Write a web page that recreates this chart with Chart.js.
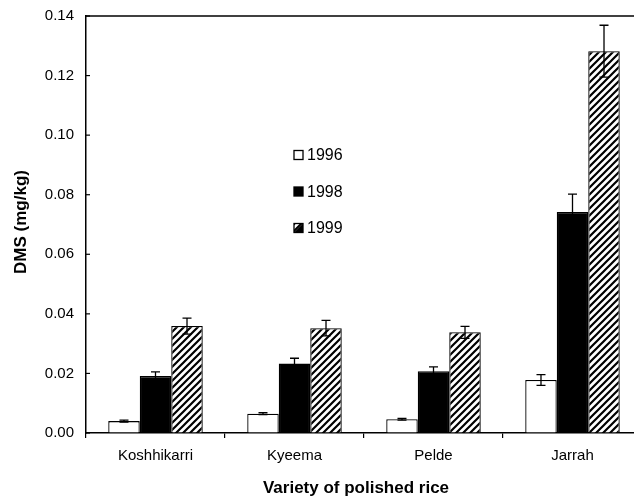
<!DOCTYPE html>
<html>
<head>
<meta charset="utf-8">
<script src="https://cdn.jsdelivr.net/npm/chart.js@4"></script>
<style>
html,body{margin:0;padding:0;background:#fff;overflow:hidden;}
#wrap{position:absolute;left:0;top:0;width:650px;height:497px;}
</style>
</head>
<body>
<div id="wrap"><canvas id="c" width="650" height="497"></canvas></div>
<script>
const categories = ["Koshhikarri", "Kyeema", "Pelde", "Jarrah"];
const seriesLabels = ["1996", "1998", "1999"];
const values1996 = [0.0040, 0.0065, 0.0046, 0.0178];
const values1998 = [0.0191, 0.0233, 0.0207, 0.0742];
const values1999 = [0.0359, 0.0352, 0.0338, 0.1282];
const err1996 = [0.0003, 0.0003, 0.0003, 0.0018];
const err1998 = [0.0014, 0.0018, 0.0015, 0.0060];
const err1999 = [0.0027, 0.0026, 0.0020, 0.0087];
const yTicks = [0.00, 0.02, 0.04, 0.06, 0.08, 0.10, 0.12, 0.14];
const yTitle = "DMS (mg/kg)";
const xTitle = "Variety of polished rice";

function hatch(){
  const s = 7;
  const c = document.createElement('canvas');
  c.width = s; c.height = s;
  const g = c.getContext('2d');
  g.fillStyle = '#fff'; g.fillRect(0,0,s,s);
  g.strokeStyle = '#000'; g.lineWidth = 2.2;
  g.beginPath();
  g.moveTo(-1, s+1); g.lineTo(s+1, -1);
  g.moveTo(-1, 1); g.lineTo(1, -1);
  g.moveTo(s-1, s+1); g.lineTo(s+1, s-1);
  g.stroke();
  return document.getElementById('c').getContext('2d').createPattern(c, 'repeat');
}

const errs = [err1996, err1998, err1999];
const FONT = "'Liberation Sans', Arial, Helvetica, sans-serif";

const decor = {
  id: 'decor',
  afterDatasetsDraw(chart){
    const ctx = chart.ctx;
    const y = chart.scales.y, a = chart.chartArea;
    ctx.save();
    // error bars
    ctx.strokeStyle = '#000'; ctx.lineWidth = 1.3;
    chart.data.datasets.forEach((ds, di) => {
      const meta = chart.getDatasetMeta(di);
      meta.data.forEach((bar, i) => {
        const v = ds.data[i], e = errs[di][i];
        const yt = y.getPixelForValue(v + e), yb = y.getPixelForValue(v - e);
        const x = bar.x, hw = 4.5;
        ctx.beginPath();
        ctx.moveTo(x, yt); ctx.lineTo(x, yb);
        ctx.moveTo(x-hw, yt); ctx.lineTo(x+hw, yt);
        ctx.moveTo(x-hw, yb); ctx.lineTo(x+hw, yb);
        ctx.stroke();
      });
    });
    // top frame line
    ctx.lineWidth = 1.5;
    ctx.beginPath(); ctx.moveTo(a.left, a.top); ctx.lineTo(a.right, a.top); ctx.stroke();
    // inward y ticks
    ctx.lineWidth = 1.2;
    yTicks.forEach(t => {
      const py = y.getPixelForValue(t);
      ctx.beginPath(); ctx.moveTo(a.left, py); ctx.lineTo(a.left + 4, py); ctx.stroke();
    });
    // legend
    const fills = chart.data.datasets.map(d => d.backgroundColor);
    const ly = [155, 191.5, 228];
    ctx.font = "16px " + FONT;
    ctx.textBaseline = 'middle'; ctx.textAlign = 'left';
    seriesLabels.forEach((lab, i) => {
      const bx = 294, by = ly[i] - 4.5;
      ctx.fillStyle = fills[i];
      ctx.fillRect(bx, by, 9, 9);
      ctx.strokeStyle = '#000'; ctx.lineWidth = 1.3;
      ctx.strokeRect(bx, by, 9, 9);
      if (i === 2) {
        ctx.fillStyle = '#000';
        ctx.beginPath(); ctx.moveTo(bx, by+9); ctx.lineTo(bx+9, by); ctx.lineTo(bx+9, by+9); ctx.closePath(); ctx.fill();
      }
      ctx.fillStyle = '#000';
      ctx.fillText(lab, bx + 13, ly[i] + 1);
    });
    // axis titles
    ctx.font = "bold 17px " + FONT;
    ctx.textAlign = 'center';
    ctx.fillText(xTitle, 356, 488);
    ctx.translate(21, 222);
    ctx.rotate(-Math.PI/2);
    ctx.fillText(yTitle, 0, 0);
    ctx.restore();
  }
};

const pat = hatch();
new Chart(document.getElementById('c'), {
  type: 'bar',
  data: {
    labels: categories,
    datasets: [
      {label: seriesLabels[0], data: values1996, backgroundColor: '#ffffff', borderColor: '#000', borderWidth: 1.3},
      {label: seriesLabels[1], data: values1998, backgroundColor: '#000000', borderColor: '#000', borderWidth: 1.3},
      {label: seriesLabels[2], data: values1999, backgroundColor: pat, borderColor: '#000', borderWidth: 1.3}
    ]
  },
  options: {
    responsive: false,
    animation: false,
    events: [],
    layout: {padding: {left: 0, right: 8, top: 16, bottom: 0}},
    plugins: {legend: {display: false}, tooltip: {enabled: false}},
    datasets: {bar: {categoryPercentage: 0.68, barPercentage: 1.0}},
    scales: {
      x: {
        grid: {display: true, drawOnChartArea: false, drawTicks: true, tickLength: 5, color: '#000', lineWidth: 1.2, offset: true},
        border: {display: true, color: '#000', width: 1.5},
        ticks: {color: '#000', font: {family: FONT, size: 15}, padding: 9, maxRotation: 0},
        afterFit(s){ s.height = 64; }
      },
      y: {
        min: 0, max: 0.14,
        afterBuildTicks(s){ s.ticks = yTicks.map(v => ({value: v})); },
        grid: {display: true, drawOnChartArea: false, drawTicks: true, tickLength: 12, color: 'rgba(0,0,0,0)'},
        border: {display: true, color: '#000', width: 1.5},
        ticks: {color: '#000', font: {family: FONT, size: 15}, padding: 0, callback: v => v.toFixed(2)},
        afterFit(s){ s.width = 86; }
      }
    }
  },
  plugins: [decor]
});
</script>
</body>
</html>
